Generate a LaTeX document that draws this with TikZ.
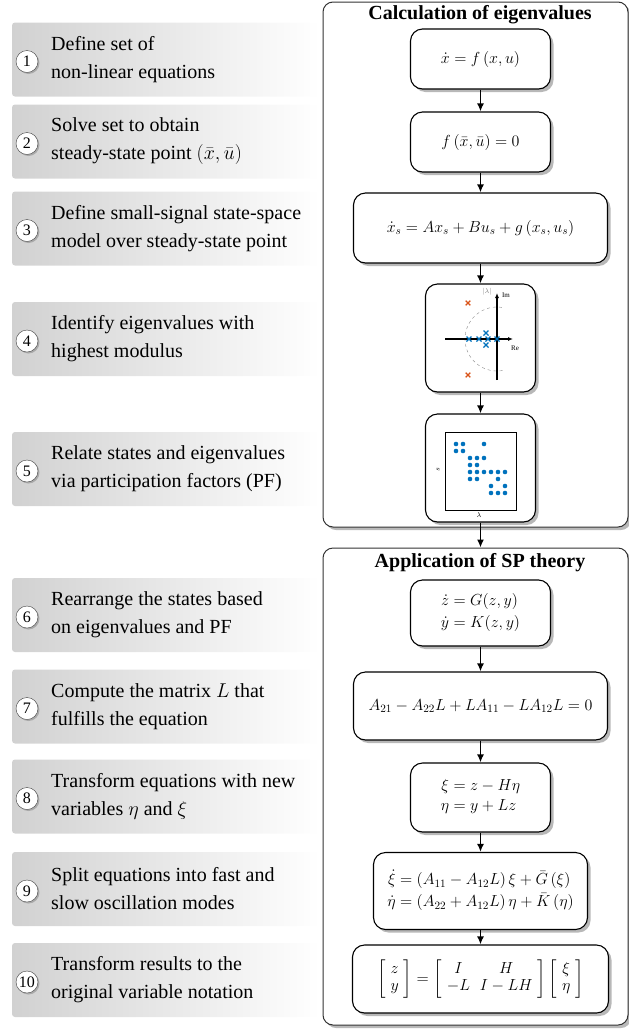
\RequirePackage{fix-cm}
\documentclass[tikz,border=0pt]{standalone}
\usepackage{amsmath, amssymb}
\usepackage{fontspec}
\setmainfont{Liberation Serif}
\usetikzlibrary{positioning, shadows, arrows.meta}

\definecolor{polblue}{RGB}{0,114,189}
\definecolor{polred}{RGB}{217,83,25}

\tikzset{
	stepbox/.style={rectangle, rounded corners=3pt, left color=black!18, right color=white, minimum width=308pt, minimum height=74pt, inner sep=0},
	stepnum/.style={circle, draw=black!75, fill=white, inner sep=0, minimum size=22pt, font=\fontsize{16}{16}\selectfont, drop shadow={shadow xshift=1.5pt, shadow yshift=-1.5pt, fill=black!50}},
	steptext/.style={anchor=west, align=left, inner sep=0, font=\fontsize{20}{28}\selectfont},
	panel/.style={draw=black!80, fill=white, rounded corners=10pt, line width=1pt, drop shadow={shadow xshift=3pt, shadow yshift=-3pt, fill=black!55}},
	paneltitle/.style={font=\fontsize{20}{24}\selectfont\bfseries},
	eqbox/.style={draw, fill=white, rounded corners=12pt, line width=1.1pt, font=\fontsize{16}{17}\selectfont, drop shadow={shadow xshift=3pt, shadow yshift=-3pt, fill=black!55}},
	flowarrow/.style={-{Latex[length=8pt, width=7pt]}, line width=1.9pt},
	pole/.style={line width=1.3pt},
}

\begin{document}
\begin{tikzpicture}[x=1pt, y=-1pt]
\useasboundingbox (0,0) rectangle (629,1029);

% steps on the left
\foreach \n/\y/\t in {1/59.5/{Define set of\\non-linear equations},
	2/141.5/{Solve set to obtain\\steady-state point $(\bar{x},\bar{u})$},
	3/228.5/{Define small-signal state-space\\model over steady-state point},
	4/339/{Identify eigenvalues with\\highest modulus},
	5/469/{Relate states and eigenvalues\\via participation factors (PF)},
	6/615/{Rearrange the states based\\on eigenvalues and PF},
	7/706.5/{Compute the matrix $L$ that\\fulfills the equation},
	8/796.5/{Transform equations with new\\variables $\eta$ and $\xi$},
	9/889/{Split equations into fast and\\slow oscillation modes},
	10/980/{Transform results to the\\original variable notation}} {
	\node[stepbox] (step\n) at (166,\y) {};
	\node[stepnum] (num\n) at (27,\y+2) {\n};
	\node[steptext] (txt\n) at (51,\y) {\t};
};

% panels
\node[panel, minimum width=305pt, minimum height=525pt] (calcpanel) at (475.5,264.5) {};
\node[paneltitle] (calctitle) at (480,15) {Calculation of eigenvalues};
\node[panel, minimum width=305pt, minimum height=477pt] (sppanel) at (475.5,786.5) {};
\node[paneltitle] (sptitle) at (480,563) {Application of SP theory};

% calculation of eigenvalues
\node[eqbox, minimum width=140pt, minimum height=60pt] (calc1) at (480.5,59) {$\dot{x}=f\left(x,u\right)$};
\node[eqbox, minimum width=140pt, minimum height=60pt] (calc2) at (480.5,142) {$f\left(\bar{x},\bar{u}\right)=0$};
\node[eqbox, minimum width=254pt, minimum height=70pt] (calc3) at (480.5,228) {$\dot{x}_s=Ax_s+Bu_s+g\left(x_s,u_s\right)$};
\node[eqbox, minimum width=110pt, minimum height=108pt] (poles) at (480.5,338) {};
\node[eqbox, minimum width=110pt, minimum height=108pt] (pf) at (480.5,468) {};

% eigenvalue plot
\begin{scope}[shift={(497,339)}]
	\draw[black!45, dashed] (80:32) arc (80:280:32);
	\draw[-{Latex[length=5pt, width=4pt]}, line width=1.3pt] (-52,0) -- (16,0);
	\draw[-{Latex[length=5pt, width=4pt]}, line width=1.3pt] (0,41) -- (0,-46);
	\node[font=\fontsize{7}{7}\selectfont] (imlabel) at (9,-44) {$\mathrm{Im}$};
	\node[font=\fontsize{7}{7}\selectfont] (relabel) at (18,9) {$\mathrm{Re}$};
	\node[font=\fontsize{7}{7}\selectfont, text=black!50] (modlabel) at (-10,-47) {$|\lambda|$};
	\foreach \x/\y in {-28/0,-18/0,-9/0,0/0,-11/-6,-11/6}
		\draw[pole, polblue] (\x-2.5,\y-2.5) -- (\x+2.5,\y+2.5) (\x-2.5,\y+2.5) -- (\x+2.5,\y-2.5);
	\foreach \x/\y in {-29/-36,-29/36}
		\draw[pole, polred] (\x-2.3,\y-2.3) -- (\x+2.3,\y+2.3) (\x-2.3,\y+2.3) -- (\x+2.3,\y-2.3);
\end{scope}

% participation factors
\draw[line width=0.8pt] (445,432) rectangle (516,510);
\node[rotate=90, font=\fontsize{7}{7}\selectfont] (slabel) at (438,470) {$s$};
\node[font=\fontsize{7}{7}\selectfont] (llabel) at (479,515) {$\lambda$};
\foreach \c/\r in {0/0,1/0,4/0,0/1,1/1,2/2,3/2,4/2,2/3,3/3,2/4,3/4,4/4,5/4,6/4,7/4,2/5,3/5,6/5,5/6,7/6,5/7,6/7,7/7}
	\fill[polblue] (456+7*\c,444+7*\r) circle (2.3pt);

% application of SP theory
\node[eqbox, minimum width=140pt, minimum height=66pt] (sp1) at (480.5,613) {$\begin{aligned}\dot{z}&=G(z,y)\\ \dot{y}&=K(z,y)\end{aligned}$};
\node[eqbox, minimum width=254pt, minimum height=68pt] (sp2) at (480.5,706) {$A_{21}-A_{22}L+LA_{11}-LA_{12}L=0$};
\node[eqbox, minimum width=140pt, minimum height=69pt] (sp3) at (480.5,797.5) {$\begin{aligned}\xi&=z-H\eta\\ \eta&=y+Lz\end{aligned}$};
\node[eqbox, minimum width=214pt, minimum height=77pt] (sp4) at (480.5,891) {$\begin{aligned}\dot{\xi}&=\left(A_{11}-A_{12}L\right)\xi+\bar{G}\left(\xi\right)\\ \dot{\eta}&=\left(A_{22}+A_{12}L\right)\eta+\bar{K}\left(\eta\right)\end{aligned}$};
\node[eqbox, minimum width=256pt, minimum height=68pt] (sp5) at (480.5,979) {$\left[\begin{array}{c}z\\y\end{array}\right]=\left[\begin{array}{cc}I&H\\-L&I-LH\end{array}\right]\left[\begin{array}{c}\xi\\\eta\end{array}\right]$};

\foreach \a/\b in {calc1/calc2,calc2/calc3,calc3/poles,poles/pf,sp1/sp2,sp2/sp3,sp3/sp4,sp4/sp5}
	\draw[flowarrow] (\a) -- (\b);
\draw[flowarrow] (pf.south) -- (pf.south |- sppanel.north);
\end{tikzpicture}
\end{document}
